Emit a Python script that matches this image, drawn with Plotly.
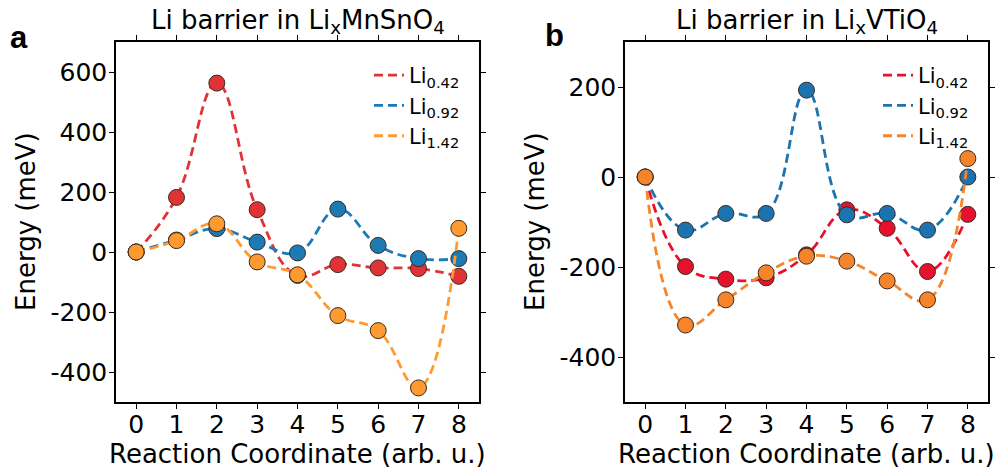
import plotly.graph_objects as go

x = [0, 1, 2, 3, 4, 5, 6, 7, 8]
series_names = ["Li<sub>0.42</sub>", "Li<sub>0.92</sub>", "Li<sub>1.42</sub>"]

# Panel a: Li_x MnSnO4 (meV)
a_li042 = [0, 182, 563, 141, -78, -42, -53, -55, -81]
a_li092 = [0, 40, 78, 33, -3, 143, 22, -22, -22]
a_li142 = [0, 38, 94, -33, -76, -212, -262, -453, 79]

# Panel b: Li_x VTiO4 (meV)
b_li042 = [0, -199, -227, -224, -173, -73, -114, -210, -83]
b_li092 = [0, -118, -81, -81, 193, -84, -81, -118, 0]
b_li142 = [0, -329, -273, -213, -176, -187, -231, -273, 41]

a_yticks = [-400, -200, 0, 200, 400, 600]
b_yticks = [-400, -200, 0, 200]

colors_a = ["#e03336", "#1c7ab5", "#fe9a2f"]
colors_b = ["#e8112d", "#1b74b0", "#f5842a"]

FONT = "DejaVu Sans"
W, H = 1003, 470

fig = go.Figure()

def add_panel(data, colors, xa, ya, legend):
    for name, ys, c in zip(series_names, data, colors):
        fig.add_trace(go.Scatter(
            x=x, y=ys, name=name, mode="lines",
            line=dict(color=c, width=2.8, dash="9px,5px", shape="spline", smoothing=1.2),
            xaxis=xa, yaxis=ya, legend=legend, showlegend=True,
        ))
        fig.add_trace(go.Scatter(
            x=x, y=ys, name=name, mode="markers",
            marker=dict(size=16, color=c, line=dict(color="#3a2a20", width=1)),
            xaxis=xa, yaxis=ya, legend=legend, showlegend=False,
        ))

add_panel([a_li042, a_li092, a_li142], colors_a, "x", "y", "legend")
add_panel([b_li042, b_li092, b_li142], colors_b, "x2", "y2", "legend2")

dom_y = [1 - 402 / H, 1 - 42 / H]
dom_a = [116 / W, 479 / W]
dom_b = [625 / W, 988 / W]

axis_common = dict(
    showline=True, linecolor="black", linewidth=1.5, mirror="ticks",
    ticks="outside", ticklen=5, tickwidth=1.2, tickcolor="black",
    showgrid=False, zeroline=False,
    tickfont=dict(family=FONT, size=25, color="black"),
)

def hy(vals):
    return [str(v) for v in vals]  # plain hyphen-minus, as in the reference

fig.update_layout(
    width=W, height=H,
    margin=dict(l=0, r=0, t=0, b=0),
    paper_bgcolor="white", plot_bgcolor="white",
    font=dict(family=FONT, color="black"),
    xaxis=dict(domain=dom_a, range=[-0.5, 8.5], tickvals=x, anchor="y", ticklabelstandoff=-6, **axis_common),
    yaxis=dict(domain=dom_y, range=[-500, 700], tickvals=a_yticks, ticktext=hy(a_yticks), anchor="x",
               ticklabelstandoff=-3, **axis_common),
    xaxis2=dict(domain=dom_b, range=[-0.5, 8.5], tickvals=x, anchor="y2", ticklabelstandoff=-6, **axis_common),
    yaxis2=dict(domain=dom_y, range=[-500, 300], tickvals=b_yticks, ticktext=hy(b_yticks), anchor="x2",
                ticklabelstandoff=-3, **axis_common),
    legend=dict(x=369 / W, y=1 - 55 / H, xanchor="left", yanchor="top",
                bgcolor="rgba(0,0,0,0)", borderwidth=0,
                font=dict(family=FONT, size=21, color="black"),
                itemwidth=30, tracegroupgap=0),
    legend2=dict(x=878 / W, y=1 - 55 / H, xanchor="left", yanchor="top",
                 bgcolor="rgba(0,0,0,0)", borderwidth=0,
                 font=dict(family=FONT, size=21, color="black"),
                 itemwidth=30, tracegroupgap=0),
    showlegend=True,
)

ann = []
for dom, title in [(dom_a, "Li barrier in Li<sub>x</sub>MnSnO<sub>4</sub>"),
                   (dom_b, "Li barrier in Li<sub>x</sub>VTiO<sub>4</sub>")]:
    cx = (dom[0] + dom[1]) / 2
    ann.append(dict(text=title, x=cx, y=1 - 40 / H, xref="paper", yref="paper",
                    xanchor="center", yanchor="bottom", showarrow=False,
                    font=dict(family=FONT, size=26, color="black")))
    ann.append(dict(text="Reaction Coordinate (arb. u.)", x=cx, y=1 - 437 / H, xref="paper", yref="paper",
                    xanchor="center", yanchor="top", showarrow=False,
                    font=dict(family=FONT, size=26, color="black")))
for xc, in [(26,), (535,)]:
    ann.append(dict(text="Energy (meV)", x=xc / W, y=(dom_y[0] + dom_y[1]) / 2, xref="paper", yref="paper",
                    xanchor="center", yanchor="middle", textangle=-90, showarrow=False,
                    font=dict(family=FONT, size=26, color="black")))
ann.append(dict(text="<b>a</b>", x=8 / W, y=1 - 57 / H, xref="paper", yref="paper",
                xanchor="left", yanchor="bottom", showarrow=False,
                font=dict(family="Liberation Sans", size=31, color="black")))
ann.append(dict(text="<b>b</b>", x=543 / W, y=1 - 55 / H, xref="paper", yref="paper",
                xanchor="left", yanchor="bottom", showarrow=False,
                font=dict(family="Liberation Sans", size=31, color="black")))
fig.update_layout(annotations=ann)

fig.write_html("out.html")
